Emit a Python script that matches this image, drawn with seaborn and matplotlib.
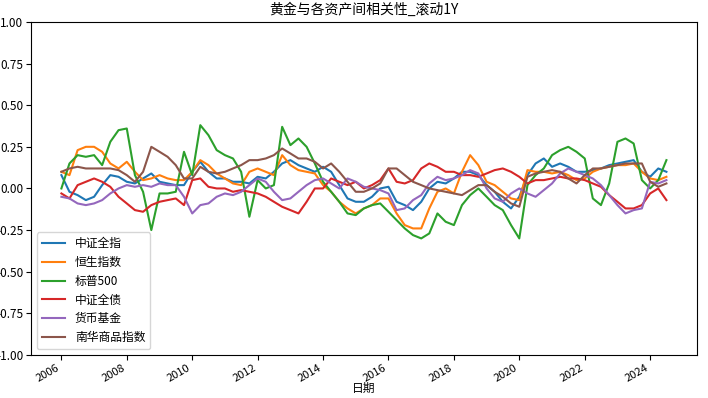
import numpy as np
import pandas as pd
import seaborn as sns
import matplotlib
matplotlib.use("Agg")
import matplotlib.pyplot as plt
import matplotlib.dates as mdates

plt.rcParams["font.family"] = ["Noto Sans CJK SC", "DejaVu Sans"]
plt.rcParams["axes.unicode_minus"] = False

# 季度采样 2006Q1 - 2024Q3, 滚动1年相关系数
dates = pd.date_range("2006-01-01", "2024-07-01", freq="QS")
names = ["中证全指", "恒生指数", "标普500", "中证全债", "货币基金", "南华商品指数"]

csi_all = [0.08, -0.02, -0.04, -0.07, -0.05, 0.02, 0.08, 0.07,
           0.04, 0.03, 0.06, 0.09, 0.04, 0.03, 0.02, 0.02,
           0.10, 0.16, 0.10, 0.06, 0.06, 0.04, 0.04, 0.03,
           0.07, 0.06, 0.10, 0.15, 0.17, 0.14, 0.12, 0.10,
           0.13, 0.10, 0.02, -0.06, -0.08, -0.08, -0.05, 0.00,
           0.01, -0.08, -0.10, -0.13, -0.08, 0.00, 0.04, 0.03,
           0.06, 0.10, 0.10, 0.08, 0.02, -0.02, -0.08, -0.12,
           -0.05, 0.08, 0.15, 0.18, 0.13, 0.15, 0.13, 0.10,
           0.10, 0.11, 0.12, 0.14, 0.15, 0.16, 0.17, 0.10,
           0.07, 0.12, 0.10]
hsi = [0.10, 0.08, 0.23, 0.25, 0.25, 0.22, 0.15, 0.12,
       0.16, 0.10, 0.05, 0.06, 0.08, 0.06, 0.05, 0.05,
       0.10, 0.17, 0.14, 0.09, 0.06, 0.03, 0.02, 0.10,
       0.12, 0.10, 0.08, 0.20, 0.14, 0.11, 0.10, 0.09,
       0.02, -0.02, -0.08, -0.12, -0.15, -0.12, -0.10, -0.06,
       -0.06, -0.15, -0.22, -0.24, -0.24, -0.12, -0.02, 0.00,
       -0.03, 0.10, 0.20, 0.14, 0.04, 0.02, -0.02, -0.06,
       -0.07, 0.11, 0.10, 0.10, 0.09, 0.10, 0.08, 0.05,
       0.06, 0.10, 0.12, 0.13, 0.14, 0.14, 0.15, 0.10,
       0.06, 0.05, 0.07]
spx = [0.00, 0.15, 0.20, 0.19, 0.20, 0.14, 0.28, 0.35,
       0.36, 0.08, -0.02, -0.25, -0.03, -0.03, -0.02, 0.22,
       0.08, 0.38, 0.32, 0.23, 0.20, 0.18, 0.10, -0.17,
       0.05, 0.00, 0.02, 0.37, 0.26, 0.30, 0.25, 0.15,
       0.04, -0.02, -0.08, -0.15, -0.16, -0.12, -0.10, -0.09,
       -0.14, -0.19, -0.24, -0.28, -0.30, -0.27, -0.15, -0.20,
       -0.22, -0.10, -0.04, 0.00, -0.05, -0.10, -0.13, -0.22,
       -0.30, 0.02, 0.08, 0.12, 0.20, 0.23, 0.25, 0.22,
       0.18, -0.06, -0.10, 0.03, 0.28, 0.30, 0.27, 0.05,
       0.00, 0.05, 0.17]
bond = [-0.03, -0.06, 0.02, 0.04, 0.06, 0.04, 0.01, -0.05,
        -0.09, -0.13, -0.14, -0.10, -0.08, -0.07, -0.06, -0.10,
        0.05, 0.06, 0.01, 0.00, 0.00, -0.02, -0.01, -0.02,
        -0.03, -0.05, -0.08, -0.11, -0.13, -0.15, -0.08, 0.00,
        0.00, 0.06, 0.04, 0.02, 0.04, 0.00, 0.02, 0.05,
        0.12, 0.04, 0.03, 0.05, 0.12, 0.15, 0.13, 0.10,
        0.10, 0.08, 0.08, 0.07, 0.09, 0.11, 0.12, 0.10,
        0.07, 0.03, 0.05, 0.05, 0.06, 0.07, 0.06, 0.06,
        0.05, 0.03, 0.01, -0.04, -0.08, -0.12, -0.12, -0.10,
        -0.03, 0.00, -0.07]
money = [-0.05, -0.06, -0.09, -0.10, -0.09, -0.07, -0.03, 0.00,
         0.02, 0.01, 0.02, 0.01, 0.03, 0.02, 0.02, -0.05,
         -0.15, -0.10, -0.09, -0.05, -0.03, -0.04, -0.02, 0.02,
         0.06, 0.04, -0.02, -0.07, -0.06, -0.02, 0.02, 0.05,
         0.06, 0.03, 0.00, 0.06, 0.04, 0.01, 0.00, -0.01,
         -0.03, -0.13, -0.12, -0.07, -0.04, 0.03, 0.07, 0.05,
         0.06, 0.08, 0.11, 0.09, 0.00, -0.06, -0.08, -0.03,
         0.00, -0.03, -0.05, -0.01, 0.03, 0.09, 0.12, 0.10,
         0.08, 0.06, 0.02, -0.04, -0.10, -0.15, -0.13, -0.12,
         0.04, 0.03, 0.05]
nanhua = [0.10, 0.12, 0.13, 0.12, 0.12, 0.12, 0.12, 0.11,
          0.08, 0.04, 0.10, 0.25, 0.22, 0.19, 0.14, 0.06,
          0.06, 0.13, 0.10, 0.09, 0.10, 0.12, 0.14, 0.17,
          0.17, 0.18, 0.20, 0.24, 0.21, 0.18, 0.18, 0.16,
          0.12, 0.15, 0.10, 0.04, -0.02, -0.02, 0.00, 0.03,
          0.12, 0.12, 0.08, 0.04, 0.02, 0.00, -0.01, -0.02,
          -0.03, -0.04, -0.01, 0.02, 0.02, -0.02, -0.05, -0.09,
          -0.11, 0.07, 0.09, 0.10, 0.11, 0.10, 0.06, 0.03,
          0.08, 0.12, 0.12, 0.13, 0.14, 0.15, 0.15, 0.15,
          0.04, 0.01, 0.03]

df = pd.DataFrame({names[0]: csi_all, names[1]: hsi, names[2]: spx,
                   names[3]: bond, names[4]: money, names[5]: nanhua},
                  index=dates)
df.index.name = "日期"
long = df.reset_index().melt(id_vars="日期", var_name="资产", value_name="相关性")

fig = plt.figure(figsize=(7.08, 3.98), dpi=100)
ax = fig.add_axes([0.044, 0.108, 0.940, 0.837])
sns.lineplot(data=long, x="日期", y="相关性", hue="资产", hue_order=names,
             palette="tab10", linewidth=1.5, ax=ax)

ax.set_ylim(-1, 1)
ax.set_yticks(np.arange(-1, 1.01, 0.25))
ax.yaxis.set_major_formatter(plt.FormatStrFormatter("%.2f"))
ax.xaxis.set_major_locator(mdates.YearLocator(2))
ax.xaxis.set_major_formatter(mdates.DateFormatter("%Y"))
plt.setp(ax.get_xticklabels(), rotation=30, ha="right")
ax.tick_params(axis="y", labelsize=8.5, pad=2)
ax.tick_params(axis="x", labelsize=8, pad=2)
ax.set_ylabel("")
ax.set_xlabel("日期", fontsize=8.5)
ax.xaxis.set_label_coords(0.5, -0.08)
ax.set_title("黄金与各资产间相关性_滚动1Y", fontsize=10)

handles, labels = ax.get_legend_handles_labels()
ax.legend(handles, labels, loc="lower left", fontsize=8.5)

fig.savefig("out.png", dpi=100)
